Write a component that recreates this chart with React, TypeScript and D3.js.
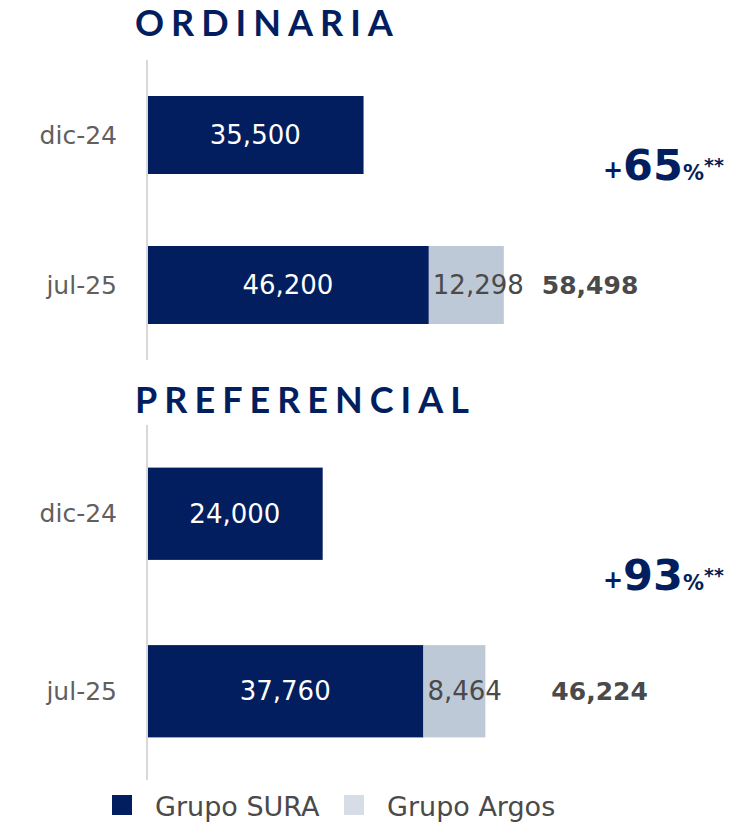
import React from 'react';
import * as d3 from 'd3';

// data
const categories = ['dic-24', 'jul-25'];
const panelTitles = ['ORDINARIA', 'PREFERENCIAL'];
const ordinariaSura = [35500, 46200];
const ordinariaArgos = [0, 12298];
const preferencialSura = [24000, 37760];
const preferencialArgos = [0, 8464];
const growthLabels = ['+65', '+93'];
const seriesNames = ['Grupo SURA', 'Grupo Argos'];

const NAVY = '#021e5e';
const LIGHT = '#bec9d7';
const LEGEND_LIGHT = '#d6dde6';
const TEXT = '#4a4a4a';
const FONT = '"DejaVu Sans", sans-serif';

const W = 748;
const H = 823;
const X0 = 147;
const X1 = 513;

// layout per panel (pixels only)
const layout = [
  { top: 60, bottom: 360, titleY: 36, growthY: 180, totalGap: 38 },
  { top: 425, bottom: 780, titleY: 413, growthY: 590, totalGap: 66 },
];

const panelData = [
  { sura: ordinariaSura, argos: ordinariaArgos },
  { sura: preferencialSura, argos: preferencialArgos },
];

function Panel({ idx }: { idx: number }) {
  const lay = layout[idx];
  const { sura, argos } = panelData[idx];
  const totals = sura.map((v, i) => v + argos[i]);

  const x = d3.scaleLinear().domain([0, d3.max(totals) as number]).nice().range([X0, X1]);
  const y = d3
    .scaleBand<string>()
    .domain(categories)
    .range([lay.top, lay.bottom])
    .paddingInner(0.48)
    .paddingOuter(0.24);
  const bw = y.bandwidth();

  return (
    <g>
      <text
        x={135}
        y={lay.titleY}
        fill={NAVY}
        fontFamily="Lato, sans-serif"
        fontWeight={700}
        fontSize={36}
        style={{ letterSpacing: '7px' }}
      >
        {panelTitles[idx]}
      </text>
      <line x1={X0} x2={X0} y1={lay.top} y2={lay.bottom} stroke="#d8d8d8" strokeWidth={2} />
      {categories.map((c, i) => {
        const yy = y(c) as number;
        const cy = yy + bw / 2;
        return (
          <g key={c}>
            <text
              x={117}
              y={cy}
              textAnchor="end"
              dominantBaseline="central"
              fontFamily={FONT}
              fontSize={25}
              fill="#606060"
            >
              {c}
            </text>
            <rect x={x(0) + 1} y={yy} width={x(sura[i]) - x(0) - 1} height={bw} fill={NAVY} />
            <text
              x={(x(0) + x(sura[i])) / 2}
              y={cy}
              textAnchor="middle"
              dominantBaseline="central"
              fontFamily={FONT}
              fontSize={26}
              fill="#fff"
            >
              {d3.format(',')(sura[i])}
            </text>
            {argos[i] > 0 && (
              <g>
                <rect
                  x={x(sura[i])}
                  y={yy}
                  width={x(totals[i]) - x(sura[i])}
                  height={bw}
                  fill={LIGHT}
                />
                <text
                  x={x(sura[i]) + 4}
                  y={cy}
                  dominantBaseline="central"
                  fontFamily={FONT}
                  fontSize={26}
                  fill={TEXT}
                >
                  {d3.format(',')(argos[i])}
                </text>
                <text
                  x={x(totals[i]) + lay.totalGap}
                  y={cy}
                  dominantBaseline="central"
                  fontFamily={FONT}
                  fontWeight={700}
                  fontSize={25}
                  fill={TEXT}
                >
                  {d3.format(',')(totals[i])}
                </text>
              </g>
            )}
          </g>
        );
      })}
      <text x={603} y={lay.growthY} fill={NAVY} fontFamily={FONT} fontWeight={700}>
        <tspan fontSize={24} dy={-2}>+</tspan>
        <tspan fontSize={43} dy={2}>{growthLabels[idx].slice(1)}</tspan>
        <tspan fontSize={21}>%</tspan>
        <tspan fontSize={19} dy={-8}>**</tspan>
      </text>
    </g>
  );
}

export default function App() {
  const legendColors = [NAVY, LEGEND_LIGHT];
  const legendX = [112, 344];
  return (
    <svg width={W} height={H} style={{ position: 'absolute', left: 0, top: 0, background: '#fff' }}>
      <rect width={W} height={H} fill="#fff" />
      {panelTitles.map((t, i) => (
        <Panel key={t} idx={i} />
      ))}
      {seriesNames.map((s, i) => (
        <g key={s} transform={`translate(${legendX[i]},795)`}>
          <rect width={20} height={20} fill={legendColors[i]} />
          <text x={43} y={21} fontFamily={FONT} fontSize={27} fill={TEXT}>
            {s}
          </text>
        </g>
      ))}
    </svg>
  );
}
